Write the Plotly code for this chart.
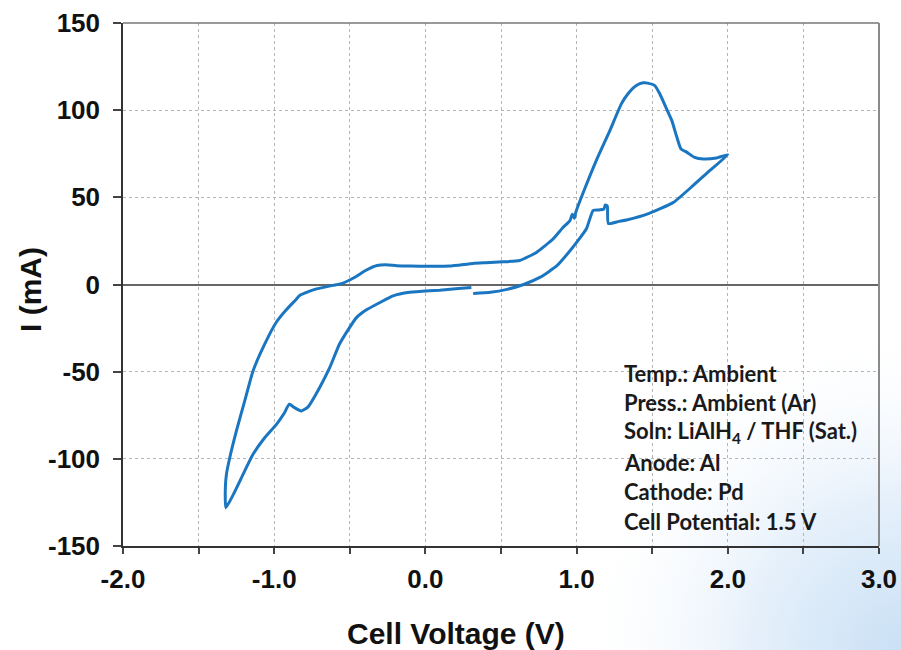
import base64
import plotly.graph_objects as go

# ---- data ----
voltage = [0.316, 0.43, 0.54, 0.65, 0.76, 0.87, 0.955, 1.01, 1.065, 1.11, 1.15, 1.18, 1.19, 1.203, 1.21,
           1.28, 1.33, 1.48, 1.64, 1.77, 1.88, 2.0,
           1.925, 1.84, 1.78, 1.73, 1.69, 1.66, 1.63, 1.59, 1.55, 1.517, 1.47, 1.44, 1.395, 1.34, 1.296,
           1.22, 1.13, 1.04, 0.995, 0.985, 0.972, 0.955, 0.91, 0.844, 0.734, 0.624, 0.513, 0.40, 0.315,
           0.16, 0.03, -0.10, -0.19, -0.26, -0.32, -0.39, -0.47, -0.545, -0.61, -0.72, -0.77, -0.83, -0.86,
           -0.92, -0.985, -1.063, -1.14, -1.195, -1.25, -1.294, -1.316, -1.323, -1.32,
           -1.27, -1.206, -1.14, -1.063, -0.985, -0.935, -0.90, -0.866, -0.82, -0.776, -0.70, -0.633,
           -0.567, -0.456, -0.39, -0.30, -0.214, -0.104, 0.028, 0.094, 0.20, 0.304]
current = [-5.2, -4.5, -2.8, 0.0, 4.2, 10.8, 19.2, 25.3, 32.0, 42.5, 42.8, 43.3, 45.6, 45.0, 35.0,
           36.2, 37.0, 40.8, 47.1, 56.7, 65.3, 74.5,
           72.6, 72.0, 72.9, 75.8, 77.8, 85.4, 94.0, 101.7, 109.4, 114.1, 115.5, 115.7, 114.1, 109.4, 103.6,
           88.3, 71.1, 51.9, 41.5, 38.0, 40.3, 36.5, 32.7, 26.1, 18.4, 13.8, 13.0, 12.5, 12.1,
           10.6, 10.5, 10.6, 10.8, 11.3, 10.9, 8.3, 4.0, 0.8, -0.5, -2.5, -4.0, -6.2, -9.0,
           -14.5, -21.5, -34.2, -49.6, -66.8, -84.0, -99.4, -108.9, -116.6, -128.1,
           -120.4, -108.9, -97.4, -87.9, -80.2, -74.0, -68.7, -70.6, -72.5, -70.2, -59.2, -47.7,
           -34.0, -19.0, -14.5, -10.3, -6.5, -4.5, -3.6, -3.3, -2.5, -1.7]

x_ticks = [-2.0, -1.5, -1.0, -0.5, 0.0, 0.5, 1.0, 1.5, 2.0, 2.5, 3.0]
x_tick_labels = ["-2.0", "", "-1.0", "", "0.0", "", "1.0", "", "2.0", "", "3.0"]
y_ticks = [-150, -100, -50, 0, 50, 100, 150]
y_tick_labels = ["-150", "-100", "-50", "0", "50", "100", "150"]

info_lines = ["Temp.: Ambient", "Press.: Ambient (Ar)", "Soln: LiAlH<sub>4</sub> / THF (Sat.)",
              "Anode: Al", "Cathode: Pd", "Cell Potential: 1.5 V"]

W, H = 901, 650
L, R, T, B = 123, 22, 23, 104
PW, PH = W - L - R, H - T - B

# background gradient (slide background, bottom-right light blue)
svg = f'''<svg xmlns="http://www.w3.org/2000/svg" width="{W}" height="{H}" viewBox="0 0 {W} {H}">
<defs><radialGradient id="g" cx="{W}" cy="{H}" r="330" gradientUnits="userSpaceOnUse">
<stop offset="0" stop-color="#c9e0f5" stop-opacity="1"/><stop offset="0.45" stop-color="#e2eefa" stop-opacity="0.9"/>
<stop offset="1" stop-color="#ffffff" stop-opacity="0"/></radialGradient></defs>
<rect width="{W}" height="{H}" fill="url(#g)"/></svg>'''
bg_src = "data:image/svg+xml;base64," + base64.b64encode(svg.encode()).decode()

fig = go.Figure()
fig.add_trace(go.Scatter(x=voltage, y=current, mode="lines",
                         line=dict(color="#1a76c0", width=3, shape="spline", smoothing=0.5),
                         showlegend=False))

tick_font = dict(family="Liberation Sans, Arial", size=26, color="#111111", weight="bold")

fig.update_layout(
    width=W, height=H,
    margin=dict(l=L, r=R, t=T, b=B, autoexpand=False),
    paper_bgcolor="white",
    plot_bgcolor="rgba(255,255,255,0)",
    xaxis=dict(range=[-2, 3], tickvals=x_ticks, ticktext=x_tick_labels, automargin=False,
               showgrid=True, gridcolor="#b5b5b5", griddash="dot", gridwidth=1,
               showline=True, linecolor="#333333", linewidth=1.5,
               ticks="outside", ticklen=6, tickcolor="#444444", tickwidth=1.5,
               tickfont=tick_font, ticklabelstandoff=3, zeroline=False, fixedrange=True),
    yaxis=dict(range=[-150, 150], tickvals=y_ticks, ticktext=y_tick_labels, automargin=False,
               showgrid=True, gridcolor="#b5b5b5", griddash="dot", gridwidth=1,
               showline=True, linecolor="#333333", linewidth=1.5,
               ticks="outside", ticklen=8, tickcolor="#444444", tickwidth=1.5,
               tickfont=tick_font, ticklabelstandoff=8,
               zeroline=True, zerolinecolor="#666666", zerolinewidth=2, fixedrange=True),
    images=[dict(source=bg_src, xref="paper", yref="paper",
                 x=-L / PW, y=1 + T / PH, sizex=W / PW, sizey=H / PH,
                 sizing="stretch", xanchor="left", yanchor="top", layer="below", opacity=1)],
    shapes=[dict(type="line", xref="paper", yref="paper", x0=0, x1=1, y0=1, y1=1,
                 line=dict(color="#777777", width=1.5)),
            dict(type="line", xref="paper", yref="paper", x0=1, x1=1, y0=0, y1=1,
                 line=dict(color="#8a8a8a", width=2))],
)

annotations = []
title_font = dict(family="Liberation Sans, Arial", size=30, color="#111111", weight="bold")
annotations.append(dict(text="Cell Voltage (V)", xref="paper", yref="paper",
                        x=(456 - L) / PW, y=(H - B - 633) / PH, xanchor="center", yanchor="middle",
                        showarrow=False, font=title_font))
annotations.append(dict(text="I (mA)", xref="paper", yref="paper", textangle=-90,
                        x=(30 - L) / PW, y=(H - B - 290) / PH, xanchor="center", yanchor="middle",
                        showarrow=False, font=title_font))
for i, line in enumerate(info_lines):
    ypix = 373 + i * 29.7
    annotations.append(dict(text=line, xref="paper", yref="paper",
                            x=(622 - L) / PW, y=(H - B - ypix) / PH,
                            xanchor="left", yanchor="middle", showarrow=False,
                            font=dict(family="Lato", size=22, color="#1a1a1a", weight="bold")))
fig.update_layout(annotations=annotations)

fig.write_html("out.html", config={"displayModeBar": False},
               post_script="document.body.style.margin='0';")
